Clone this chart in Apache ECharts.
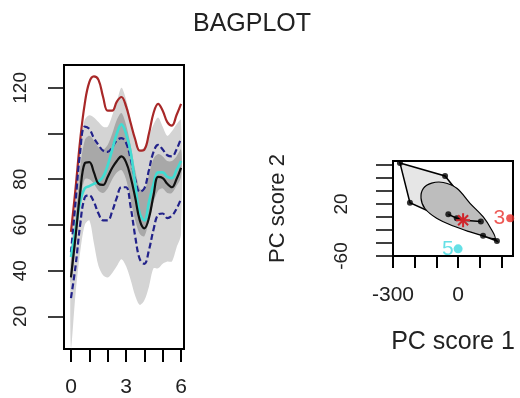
<!DOCTYPE html>
<html><head><meta charset="utf-8">
<script src="https://cdn.jsdelivr.net/npm/echarts@6/dist/echarts.min.js"></script>
<style>html,body{margin:0;padding:0;background:#fff}#c{width:520px;height:398px}</style>
</head><body><div id="c"></div>
<script>
// ---- Left panel: functional bagplot (time 0..6) ----
const tValues = [0,0.25,0.5,0.75,1,1.25,1.5,1.75,2,2.25,2.5,2.75,3,3.25,3.5,3.75,4,4.25,4.5,4.75,5,5.25,5.5,5.75,6];
const redCurve    = [57,76,97,113,122.5,125,123.5,116,110,110,114,116,112,104.7,97.5,92.5,93,100,109,113,110,105,103.5,108,113];
const cyanCurve   = [46,58,70,76,77,78,79,81,86,93,100,104,100,92,78,65,62,70,78,83,83,81,80.5,84,88];
const medianCurve = [37,55,74,87,87.5,83,78,77.5,81,85,88,90,87.5,81,72,62,58.5,63,73,81,80.5,78,76.5,80,85];
const bagUpper    = [48,70,92,103,102,98,95,92.5,92,94,97,98,96,89,80,74.5,76,84,92,95,93,90.5,90,93,98];
const bagLower    = [28,42,60,72,73,70,65,62,62,66,72,76.5,76.5,68,55,45,43,49,58,64.5,65,63,64,67,71.5];
const outerUpper  = [50,72,95,106,108,107,105,103,103,108,114,120,115,106,97,93,94,99,104,107,103,99,101,104,106];
const outerLower  = [6,30,48,60,62,52,42,38,37,39,42,45,42,36,29,25,27,33,41,41,43,44,44,50,56];
const innerUpper  = [45,62,85,97,99,97,94,93,95,100,106,109,104,95,84,76,75,82,89,91,90,88,88,90,93];
const innerLower  = [35,50,70,80,80,78,75,74,76,80,83,84,80,71,62,56,55,62,70,75,76,74,74,77,81];
const leftXTicks  = [0,1,2,3,4,5,6];
const leftXLabels = [0,3,6];
const leftYTicks  = [20,40,60,80,100,120];
const leftYLabels = [20,40,60,80,120];

// ---- Right panel: bivariate bagplot of PC scores ----
const hullX = [-268,-60,179,115,-222];
const hullY = [83,63,-37,-29,22];
const bagX  = [-160,-122,-68,-6,55,116,155,170,116,55,-22,-99,-153,-171];
const bagY  = [44,52,53,44,21,0,-20,-33,-29,-23,-14,-2,13,29];
const dotX  = [-268,-60,-222,179,115,-45,-6,105];
const dotY  = [83,63,22,-37,-29,4,-2,-7];
const pathX = [-45,-6,23,105];
const pathY = [4,-2,-5,-7];
const medianPt = [23,-5];
const outlier3 = [240,-2];
const outlier5 = [0,-49];
const rightXTicks  = [-300,-200,-100,0,100,200];
const rightXLabels = [-300,0];
const rightYTicks  = [-60,-40,-20,0,20,40,60,80];
const rightYLabels = [-60,20];

const FONT = 'Liberation Sans, Arial, sans-serif';
const pairs = arr => tValues.map((t,i)=>[t,arr[i]]);

function bandSeries(lo, up, color, z){
  return {type:'custom', xAxisIndex:0, yAxisIndex:0, data:[0], silent:true, z:z,
    renderItem:(p,api)=>{
      const top = tValues.map((t,i)=>api.coord([t, up[i]]));
      const bot = tValues.map((t,i)=>api.coord([t, lo[i]])).reverse();
      return {type:'polygon', shape:{points: top.concat(bot), smooth:0.3}, style:{fill:color}};
    }};
}
function curve(arr, color, type, width, z){
  return {type:'line', xAxisIndex:0, yAxisIndex:0, data:pairs(arr), smooth:0.4, symbol:'none',
          lineStyle:{color:color, width:width, type:type}, silent:true, z:z};
}
const noLine = {show:false, onZero:false};

const chart = echarts.init(document.getElementById('c'), null, {renderer:'canvas'});
chart.setOption({
  animation:false,
  textStyle:{fontFamily:FONT},
  graphic:[{type:'text', style:{text:'BAGPLOT', x:252, y:24, textAlign:'center', textVerticalAlign:'middle',
            font:'25px '+FONT, fill:'#222'}}],
  grid:[
    {left:64, top:65, width:120, height:287, show:true, borderColor:'#000', borderWidth:2, backgroundColor:'transparent'},
    {left:393, top:161, width:120, height:95, show:true, borderColor:'#000', borderWidth:2, backgroundColor:'transparent'}
  ],
  xAxis:[
    {gridIndex:0, type:'value', min:-0.38, max:6.16, axisLine:noLine, splitLine:{show:false},
     axisTick:{show:true, length:13, lineStyle:{color:'#000', width:2}, customValues:leftXTicks},
     axisLabel:{customValues:leftXLabels, fontSize:21, color:'#222', margin:28, fontFamily:FONT}},
    {gridIndex:1, type:'value', min:-300, max:253, axisLine:noLine, splitLine:{show:false},
     axisTick:{show:true, length:12, lineStyle:{color:'#000', width:2}, customValues:rightXTicks},
     axisLabel:{customValues:rightXLabels, fontSize:21, color:'#222', margin:29, fontFamily:FONT},
     name:'PC score 1', nameLocation:'middle', nameGap:74, nameTextStyle:{fontSize:25, color:'#222', fontFamily:FONT}}
  ],
  yAxis:[
    {gridIndex:0, type:'value', min:5.7, max:130, axisLine:noLine, splitLine:{show:false},
     axisTick:{show:true, length:16, lineStyle:{color:'#000', width:1.5}, customValues:leftYTicks},
     axisLabel:{customValues:leftYLabels, rotate:90, fontSize:19, color:'#222', margin:34, fontFamily:FONT}},
    {gridIndex:1, type:'value', min:-60, max:86, axisLine:noLine, splitLine:{show:false},
     axisTick:{show:true, length:17, lineStyle:{color:'#000', width:1.5}, customValues:rightYTicks},
     axisLabel:{customValues:rightYLabels, rotate:90, fontSize:19, color:'#222', margin:42, fontFamily:FONT},
     name:'PC score 2', nameLocation:'middle', nameGap:104, nameRotate:90, nameTextStyle:{fontSize:22, color:'#222', fontFamily:FONT}}
  ],
  series:[
    bandSeries(outerLower, outerUpper, '#d4d4d4', 1),
    bandSeries(innerLower, innerUpper, '#a8a8a8', 2),
    curve(redCurve, '#a82828', 'solid', 2.2, 3),
    curve(bagUpper, '#22228a', [6,3], 2.2, 4),
    curve(bagLower, '#22228a', [6,3], 2.2, 4),
    curve(cyanCurve, '#40dcd2', 'solid', 2.6, 5),
    curve(medianCurve, '#111111', 'solid', 2.2, 6),
    // right panel
    {type:'custom', xAxisIndex:1, yAxisIndex:1, data:[0], silent:true, z:1,
     renderItem:(p,api)=>({type:'polygon', shape:{points:hullX.map((x,i)=>api.coord([x,hullY[i]]))},
       style:{fill:'#e6e6e6', stroke:'#000', lineWidth:1.5}})},
    {type:'custom', xAxisIndex:1, yAxisIndex:1, data:[0], silent:true, z:2,
     renderItem:(p,api)=>({type:'polygon', shape:{points:bagX.map((x,i)=>api.coord([x,bagY[i]])), smooth:0.35},
       style:{fill:'#bdbdbd', stroke:'#000', lineWidth:1.2}})},
    {type:'line', xAxisIndex:1, yAxisIndex:1, data:pathX.map((x,i)=>[x,pathY[i]]), symbol:'none',
     lineStyle:{color:'#000', width:1.5}, silent:true, z:3},
    {type:'scatter', xAxisIndex:1, yAxisIndex:1, data:dotX.map((x,i)=>[x,dotY[i]]), symbol:'circle',
     symbolSize:6, itemStyle:{color:'#000'}, silent:true, z:4},
    {type:'custom', xAxisIndex:1, yAxisIndex:1, data:[medianPt], silent:true, z:5,
     renderItem:(p,api)=>{
       const c = api.coord([api.value(0), api.value(1)]); const r = 7, d = 5;
       const st = {stroke:'#d0252a', lineWidth:2};
       return {type:'group', children:[
         {type:'line', shape:{x1:c[0]-r,y1:c[1],x2:c[0]+r,y2:c[1]}, style:st},
         {type:'line', shape:{x1:c[0],y1:c[1]-r,x2:c[0],y2:c[1]+r}, style:st},
         {type:'line', shape:{x1:c[0]-d,y1:c[1]-d,x2:c[0]+d,y2:c[1]+d}, style:st},
         {type:'line', shape:{x1:c[0]-d,y1:c[1]+d,x2:c[0]+d,y2:c[1]-d}, style:st}
       ]};
     }},
    {type:'scatter', xAxisIndex:1, yAxisIndex:1, data:[outlier3], symbol:'circle', symbolSize:8,
     itemStyle:{color:'#e8302a'}, silent:true, z:6, clip:false,
     label:{show:true, formatter:'3', position:'left', distance:1, fontSize:21, color:'#e8302a', fontFamily:FONT}},
    {type:'scatter', xAxisIndex:1, yAxisIndex:1, data:[outlier5], symbol:'circle', symbolSize:9,
     itemStyle:{color:'#3fd8e0'}, silent:true, z:6, clip:false,
     label:{show:true, formatter:'5', position:'left', distance:0, fontSize:21, color:'#3fd8e0', fontFamily:FONT}}
  ]
});
</script>
</body></html>
